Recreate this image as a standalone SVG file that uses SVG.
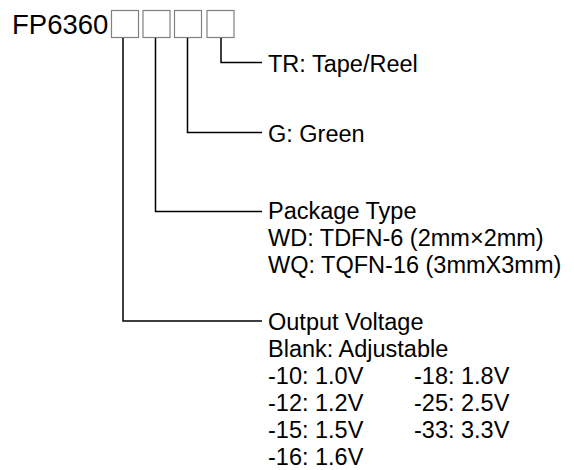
<svg xmlns="http://www.w3.org/2000/svg" width="574" height="470" viewBox="0 0 574 470">
<style>
text{font-family:"Liberation Sans",Arial,sans-serif;font-size:23.5px;fill:#000}
.title{font-size:27.5px}
.box{fill:#fff;stroke:#808080;stroke-width:1.2}
.wire{fill:none;stroke:#000;stroke-width:1.5}
</style>
<rect width="574" height="470" fill="#fff"/>
<g id="part-number">
<text class="title" x="12" y="34.3">FP6360</text>
<rect class="box" x="111.5" y="10.5" width="27" height="27"/>
<rect class="box" x="143" y="10.5" width="27" height="27"/>
<rect class="box" x="174.5" y="10.5" width="27" height="27"/>
<rect class="box" x="207" y="10.5" width="27" height="27"/>
</g>
<g id="connectors">
<polyline class="wire" points="221,38 221,62.5 262,62.5"/>
<polyline class="wire" points="187.5,38 187.5,132.5 262,132.5"/>
<polyline class="wire" points="155.5,38 155.5,211.5 262,211.5"/>
<polyline class="wire" points="123,38 123,321 262,321"/>
</g>
<g id="tape-reel">
<text x="268" y="71.5">TR: Tape/Reel</text>
</g>
<g id="green">
<text x="268" y="142">G: Green</text>
</g>
<g id="package-type">
<text x="268" y="218.5">Package Type</text>
<text x="268" y="245.5">WD: TDFN-6 (2mm×2mm)</text>
<text x="268" y="272.5">WQ: TQFN-16 (3mmX3mm)</text>
</g>
<g id="output-voltage">
<text x="268" y="330">Output Voltage</text>
<text x="268" y="357">Blank: Adjustable</text>
<text x="268" y="384">-10: 1.0V</text>
<text x="268" y="411">-12: 1.2V</text>
<text x="268" y="438">-15: 1.5V</text>
<text x="268" y="465">-16: 1.6V</text>
<text x="414" y="384">-18: 1.8V</text>
<text x="414" y="411">-25: 2.5V</text>
<text x="414" y="438">-33: 3.3V</text>
</g>
</svg>
